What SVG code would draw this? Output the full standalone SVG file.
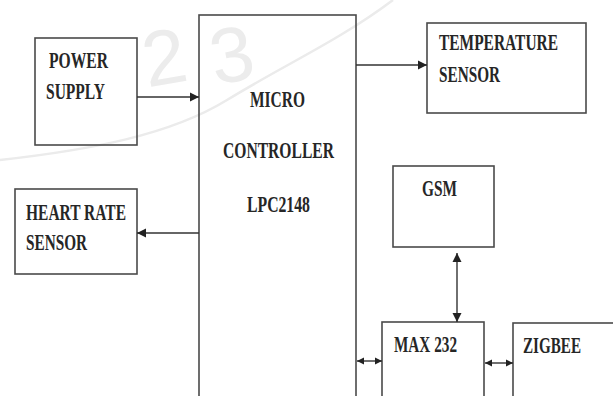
<svg xmlns="http://www.w3.org/2000/svg" width="613" height="396" viewBox="0 0 613 396">
<style>
.box{fill:none;stroke:#4a4a4a;stroke-width:1.6}
.lbl{font-family:"Liberation Serif","Times New Roman",serif;font-size:16px;font-weight:bold;fill:#262626}
.con{fill:none;stroke:#333;stroke-width:1.4}
.wm{font-family:"Liberation Sans",Arial,sans-serif;font-size:78px;fill:#ececec}
</style>
<defs>
<marker id="arr" markerUnits="userSpaceOnUse" markerWidth="10" markerHeight="10" refX="9" refY="5" orient="auto-start-reverse">
<path d="M0,0.5 L9,5 L0,9.5 z" fill="#222"/>
</marker>
<marker id="arrs" markerUnits="userSpaceOnUse" markerWidth="8" markerHeight="8" refX="7" refY="4" orient="auto-start-reverse">
<path d="M0,0.5 L7,4 L0,7.5 z" fill="#222"/>
</marker>
</defs>
<rect width="613" height="396" fill="#fff"/>
<g id="watermark">
<path d="M0,160 C90,150 170,135 227,100 S340,40 393,0" fill="none" stroke="#ebebeb" stroke-width="2.5"/>
<text class="wm" x="143" y="84" transform="rotate(-10 165 60)">2</text>
<text class="wm" x="210" y="82" transform="rotate(-10 230 55)">3</text>
</g>
<g id="power">
<rect class="box" x="35" y="38" width="102" height="107"/>
<text class="lbl" transform="matrix(1 0 0 1.5 49 68)" textLength="59" lengthAdjust="spacingAndGlyphs">POWER</text>
<text class="lbl" transform="matrix(1 0 0 1.5 46 99)" textLength="59" lengthAdjust="spacingAndGlyphs">SUPPLY</text>
</g>
<g id="mcu">
<rect class="box" x="199" y="15" width="157" height="400"/>
<text class="lbl" transform="matrix(1 0 0 1.5 250 107)" textLength="55" lengthAdjust="spacingAndGlyphs">MICRO</text>
<text class="lbl" transform="matrix(1 0 0 1.5 223 158)" textLength="111" lengthAdjust="spacingAndGlyphs">CONTROLLER</text>
<text class="lbl" transform="matrix(1 0 0 1.5 247 212)" textLength="63" lengthAdjust="spacingAndGlyphs">LPC2148</text>
</g>
<g id="heart">
<rect class="box" x="15" y="189" width="122" height="85"/>
<text class="lbl" transform="matrix(1 0 0 1.5 26 220)" textLength="100" lengthAdjust="spacingAndGlyphs">HEART RATE</text>
<text class="lbl" transform="matrix(1 0 0 1.5 26 250)" textLength="61" lengthAdjust="spacingAndGlyphs">SENSOR</text>
</g>
<g id="temp">
<rect class="box" x="427" y="23" width="159" height="90"/>
<text class="lbl" transform="matrix(1 0 0 1.5 439 50)" textLength="119" lengthAdjust="spacingAndGlyphs">TEMPERATURE</text>
<text class="lbl" transform="matrix(1 0 0 1.5 439 82)" textLength="61" lengthAdjust="spacingAndGlyphs">SENSOR</text>
</g>
<g id="gsm">
<rect class="box" x="393" y="166" width="101" height="81"/>
<text class="lbl" transform="matrix(1 0 0 1.5 422 196)" textLength="35" lengthAdjust="spacingAndGlyphs">GSM</text>
</g>
<g id="max232">
<rect class="box" x="382" y="322" width="102" height="100"/>
<text class="lbl" transform="matrix(1 0 0 1.5 394 352)" textLength="63" lengthAdjust="spacingAndGlyphs">MAX 232</text>
</g>
<g id="zigbee">
<rect class="box" x="513" y="323" width="120" height="100"/>
<text class="lbl" transform="matrix(1 0 0 1.5 523 353)" textLength="58" lengthAdjust="spacingAndGlyphs">ZIGBEE</text>
</g>
<g id="connectors">
<line class="con" x1="137" y1="97" x2="199" y2="97" marker-end="url(#arr)"/>
<line class="con" x1="356" y1="65" x2="427" y2="65" marker-end="url(#arr)"/>
<line class="con" x1="199" y1="233" x2="137" y2="233" marker-end="url(#arr)"/>
<line class="con" x1="457" y1="253" x2="457" y2="322" marker-start="url(#arr)" marker-end="url(#arr)"/>
<line class="con" x1="357" y1="361" x2="382" y2="361" marker-start="url(#arrs)" marker-end="url(#arrs)"/>
<line class="con" x1="485" y1="363" x2="513" y2="363" marker-start="url(#arrs)" marker-end="url(#arrs)"/>
</g>
</svg>
